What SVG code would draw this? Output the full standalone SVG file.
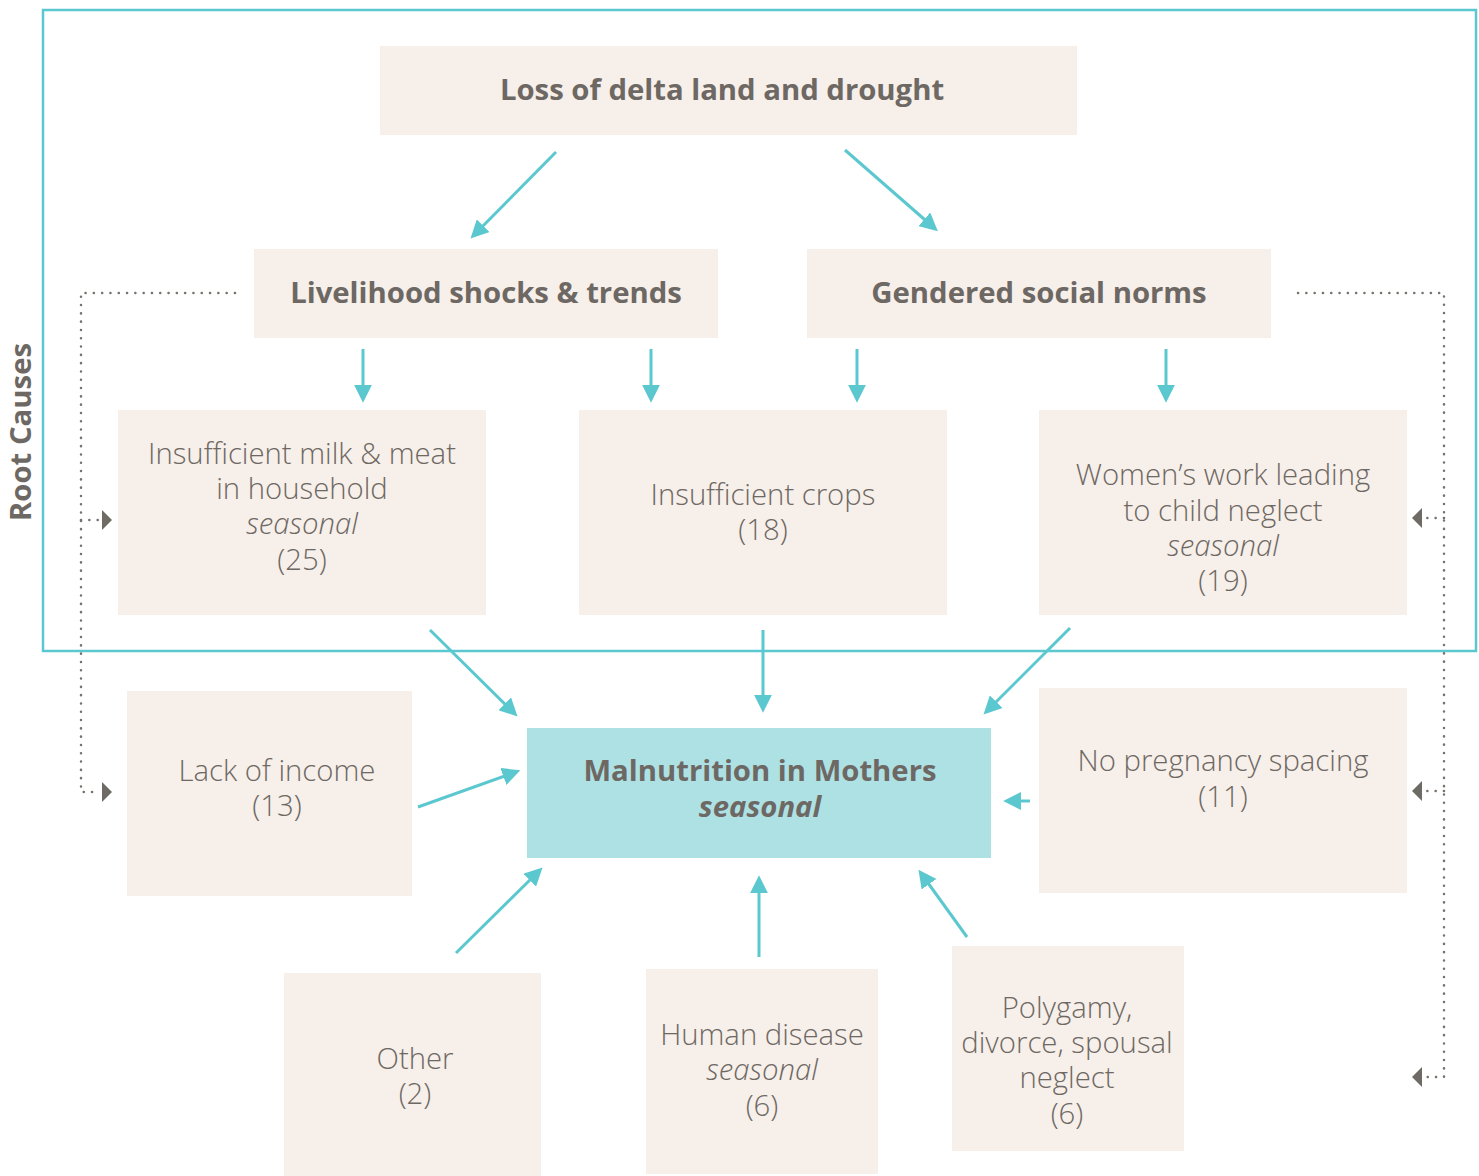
<svg xmlns="http://www.w3.org/2000/svg" width="1479" height="1176" viewBox="0 0 1479 1176">
<style>
.box{fill:#f7efe9}
.c{fill:#ade1e4}
.t{font-family:"Open Sans","Noto Sans",sans-serif;font-size:29.3px;fill:#6d6863;text-anchor:middle;font-weight:300}
.b{font-weight:700}
.i{font-style:italic}
.a{stroke:#5bc8d0;stroke-width:3;fill:none;marker-end:url(#ah)}
.d{stroke:#77726c;stroke-width:2.5;stroke-dasharray:0.1 8.2;stroke-linecap:round;fill:none}
.g{fill:#6e6a64}
</style>
<defs>
<marker id="ah" markerWidth="6" markerHeight="6" refX="3.4" refY="3" orient="auto" markerUnits="strokeWidth">
<path d="M0,0 L6,3 L0,6 Z" fill="#5bc8d0"/>
</marker>
</defs>
<rect x="43" y="10" width="1433" height="641" fill="none" stroke="#5bc8d0" stroke-width="2.5"/>
<text class="t b" transform="translate(31,432) rotate(-90)">Root Causes</text>

<g id="connectors">
<line class="a" x1="556" y1="152" x2="476" y2="233"/>
<line class="a" x1="845" y1="150" x2="932" y2="226"/>
<line class="a" x1="363" y1="349" x2="363" y2="395"/>
<line class="a" x1="651" y1="349" x2="651" y2="395"/>
<line class="a" x1="857" y1="349" x2="857" y2="395"/>
<line class="a" x1="1166" y1="349" x2="1166" y2="395"/>
<line class="a" x1="430" y1="630" x2="512" y2="711"/>
<line class="a" x1="763" y1="630" x2="763" y2="705"/>
<line class="a" x1="1070" y1="628" x2="989" y2="709"/>
<line class="a" x1="418" y1="807" x2="513" y2="773"/>
<line class="a" x1="1030" y1="801" x2="1011" y2="801"/>
<line class="a" x1="456" y1="953" x2="537" y2="873"/>
<line class="a" x1="759" y1="957" x2="759" y2="883"/>
<line class="a" x1="967" y1="937" x2="923" y2="876"/>
<path class="d" d="M235,293 H81 V792 H100"/>
<path class="d" d="M81,520 H100"/>
<polygon class="g" points="102,510 112,520 102,530"/>
<polygon class="g" points="102,782 112,792 102,802"/>
<path class="d" d="M1298,293 H1444 V1077 H1424"/>
<path class="d" d="M1444,518 H1424"/>
<path class="d" d="M1444,791 H1424"/>
<polygon class="g" points="1422,508 1412,518 1422,528"/>
<polygon class="g" points="1422,781 1412,791 1422,801"/>
<polygon class="g" points="1422,1067 1412,1077 1422,1087"/>
</g>

<g id="n-loss"><rect class="box" x="380" y="46" width="697" height="89"/><text class="t b" x="722" y="100">Loss of delta land and drought</text></g>
<g id="n-livelihood"><rect class="box" x="254" y="249" width="464" height="89"/><text class="t b" x="486" y="303">Livelihood shocks &amp; trends</text></g>
<g id="n-gendered"><rect class="box" x="807" y="249" width="464" height="89"/><text class="t b" x="1039" y="303">Gendered social norms</text></g>
<g id="n-milk"><rect class="box" x="118" y="410" width="368" height="205"/>
<text class="t" x="302" y="464">Insufficient milk &amp; meat</text>
<text class="t" x="302" y="499">in household</text>
<text class="t i" x="302" y="534">seasonal</text>
<text class="t" x="302" y="570">(25)</text></g>
<g id="n-crops"><rect class="box" x="579" y="410" width="368" height="205"/>
<text class="t" x="763" y="505">Insufficient crops</text>
<text class="t" x="763" y="540">(18)</text></g>
<g id="n-women"><rect class="box" x="1039" y="410" width="368" height="205"/>
<text class="t" x="1223" y="485">Women’s work leading</text>
<text class="t" x="1223" y="521">to child neglect</text>
<text class="t i" x="1223" y="556">seasonal</text>
<text class="t" x="1223" y="591">(19)</text></g>
<g id="n-mal"><rect class="c" x="527" y="728" width="464" height="130"/>
<text class="t b" x="760" y="781">Malnutrition in Mothers</text>
<text class="t b i" x="760" y="817">seasonal</text></g>
<g id="n-income"><rect class="box" x="127" y="691" width="285" height="205"/>
<text class="t" x="277" y="781">Lack of income</text>
<text class="t" x="277" y="816">(13)</text></g>
<g id="n-preg"><rect class="box" x="1039" y="688" width="368" height="205"/>
<text class="t" x="1223" y="771">No pregnancy spacing</text>
<text class="t" x="1223" y="807">(11)</text></g>
<g id="n-other"><rect class="box" x="284" y="973" width="257" height="203"/>
<text class="t" x="415" y="1069">Other</text>
<text class="t" x="415" y="1104">(2)</text></g>
<g id="n-disease"><rect class="box" x="646" y="969" width="232" height="205"/>
<text class="t" x="762" y="1045">Human disease</text>
<text class="t i" x="762" y="1080">seasonal</text>
<text class="t" x="762" y="1116">(6)</text></g>
<g id="n-poly"><rect class="box" x="952" y="946" width="232" height="205"/>
<text class="t" x="1067" y="1018">Polygamy,</text>
<text class="t" x="1067" y="1053">divorce, spousal</text>
<text class="t" x="1067" y="1088">neglect</text>
<text class="t" x="1067" y="1124">(6)</text></g>
</svg>
